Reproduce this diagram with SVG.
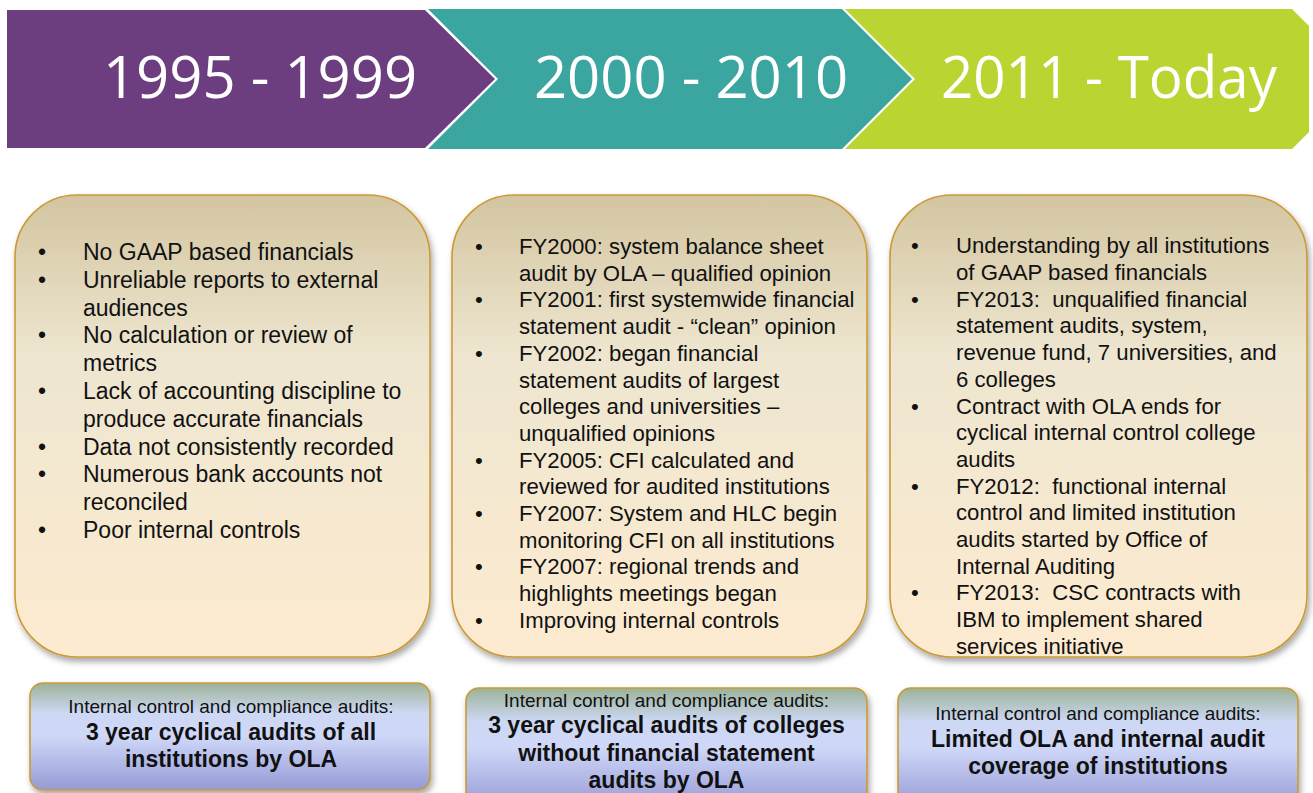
<svg xmlns="http://www.w3.org/2000/svg" width="1313" height="793" viewBox="0 0 1313 793">
  <style>
    .era { font-family: "Open Sans", "Noto Sans", sans-serif; font-size: 58px; fill: #ffffff; text-anchor: middle; }
    .card { stroke: #cc9a34; stroke-width: 1.6; fill: url(#cardFill); filter: url(#shadow); }
    .note { stroke: #cc9a34; stroke-width: 1.6; fill: url(#noteFill); filter: url(#shadow); }
    .item { font-family: "Liberation Sans", Arial, sans-serif; fill: #111111; }
    .b1 { font-size: 23px; }
    .b2 { font-size: 22.2px; }
    .lead { font-family: "Liberation Sans", Arial, sans-serif; font-size: 19px; fill: #111111; text-anchor: middle; }
    .strong { font-family: "Liberation Sans", Arial, sans-serif; font-size: 23px; font-weight: bold; fill: #111111; text-anchor: middle; }
  </style>
  <defs>
    <linearGradient id="cardFill" x1="0" y1="0" x2="0" y2="1">
      <stop offset="0" stop-color="#d3c5a0"/>
      <stop offset="0.35" stop-color="#eee6d0"/>
      <stop offset="1" stop-color="#fdebd0"/>
    </linearGradient>
    <linearGradient id="noteFill" x1="0" y1="0" x2="0" y2="1">
      <stop offset="0" stop-color="#9cb297"/>
      <stop offset="0.28" stop-color="#cdd8f4"/>
      <stop offset="0.5" stop-color="#cfd7f8"/>
      <stop offset="1" stop-color="#959ad4"/>
    </linearGradient>
    <filter id="shadow" x="-10%" y="-10%" width="125%" height="125%">
      <feDropShadow dx="2" dy="4" stdDeviation="3" flood-color="#000000" flood-opacity="0.35"/>
    </filter>
  </defs>

  <rect width="1313" height="793" fill="#ffffff"/>

  <!-- timeline banner -->
  <g id="era-1995">
    <path d="M7,10 L425,10 L495,79 L425,148 L7,148 Z" fill="#6d3e7f"/>
    <text class="era" x="260" y="98">1995 - 1999</text>
  </g>
  <g id="era-2000">
    <path d="M428,9 L842,9 L912,79 L842,149 L428,149 L498,79 Z" fill="#3ba6a0"/>
    <text class="era" x="691" y="98">2000 - 2010</text>
  </g>
  <g id="era-2011">
    <path d="M845,9 L1292,9 L1309,26 L1309,132 L1292,149 L845,149 L915,79 Z" fill="#bad432"/>
    <text class="era" x="1109" y="98" textLength="336" lengthAdjust="spacingAndGlyphs">2011 - Today</text>
  </g>

  <!-- period detail cards -->
  <g id="card-1995">
    <rect class="card" x="15" y="195" width="415" height="462" rx="62" ry="62"/>
    <g class="item b1">
      <text x="38" y="260">•</text><text x="83" y="260">No GAAP based financials</text>
      <text x="38" y="287.8">•</text><text x="83" y="287.8">Unreliable reports to external</text>
      <text x="83" y="315.6">audiences</text>
      <text x="38" y="343.4">•</text><text x="83" y="343.4">No calculation or review of</text>
      <text x="83" y="371.2">metrics</text>
      <text x="38" y="399">•</text><text x="83" y="399">Lack of accounting discipline to</text>
      <text x="83" y="426.8">produce accurate financials</text>
      <text x="38" y="454.6">•</text><text x="83" y="454.6">Data not consistently recorded</text>
      <text x="38" y="482.4">•</text><text x="83" y="482.4">Numerous bank accounts not</text>
      <text x="83" y="510.2">reconciled</text>
      <text x="38" y="538">•</text><text x="83" y="538">Poor internal controls</text>
    </g>
  </g>

  <g id="card-2000">
    <rect class="card" x="452" y="195" width="415" height="462" rx="62" ry="62"/>
    <g class="item b2">
      <text x="475" y="254">•</text><text x="519" y="254">FY2000: system balance sheet</text>
      <text x="519" y="280.7">audit by OLA – qualified opinion</text>
      <text x="475" y="307.4">•</text><text x="519" y="307.4">FY2001: first systemwide financial</text>
      <text x="519" y="334.1">statement audit - “clean” opinion</text>
      <text x="475" y="360.8">•</text><text x="519" y="360.8">FY2002: began financial</text>
      <text x="519" y="387.5">statement audits of largest</text>
      <text x="519" y="414.2">colleges and universities –</text>
      <text x="519" y="440.9">unqualified opinions</text>
      <text x="475" y="467.6">•</text><text x="519" y="467.6">FY2005: CFI calculated and</text>
      <text x="519" y="494.3">reviewed for audited institutions</text>
      <text x="475" y="521">•</text><text x="519" y="521">FY2007: System and HLC begin</text>
      <text x="519" y="547.7">monitoring CFI on all institutions</text>
      <text x="475" y="574.4">•</text><text x="519" y="574.4">FY2007: regional trends and</text>
      <text x="519" y="601.1">highlights meetings began</text>
      <text x="475" y="627.8">•</text><text x="519" y="627.8">Improving internal controls</text>
    </g>
  </g>

  <g id="card-2011">
    <rect class="card" x="890" y="195" width="417" height="462" rx="62" ry="62"/>
    <g class="item b2">
      <text x="911" y="253.3">•</text><text x="956" y="253.3">Understanding by all institutions</text>
      <text x="956" y="280">of GAAP based financials</text>
      <text x="911" y="306.7">•</text><text x="956" y="306.7">FY2013:&#160; unqualified financial</text>
      <text x="956" y="333.4">statement audits, system,</text>
      <text x="956" y="360.1">revenue fund, 7 universities, and</text>
      <text x="956" y="386.8">6 colleges</text>
      <text x="911" y="413.5">•</text><text x="956" y="413.5">Contract with OLA ends for</text>
      <text x="956" y="440.2">cyclical internal control college</text>
      <text x="956" y="466.9">audits</text>
      <text x="911" y="493.6">•</text><text x="956" y="493.6">FY2012:&#160; functional internal</text>
      <text x="956" y="520.3">control and limited institution</text>
      <text x="956" y="547">audits started by Office of</text>
      <text x="956" y="573.7">Internal Auditing</text>
      <text x="911" y="600.4">•</text><text x="956" y="600.4">FY2013:&#160; CSC contracts with</text>
      <text x="956" y="627.1">IBM to implement shared</text>
      <text x="956" y="653.8">services initiative</text>
    </g>
  </g>

  <!-- audit coverage notes -->
  <g id="note-1995">
    <rect class="note" x="30" y="683" width="400" height="107" rx="13" ry="13"/>
    <text class="lead" x="231" y="712.7">Internal control and compliance audits:</text>
    <text class="strong" x="231" y="740">3 year cyclical audits of all</text>
    <text class="strong" x="231" y="767">institutions by OLA</text>
  </g>
  <g id="note-2000">
    <rect class="note" x="466" y="688" width="401" height="120" rx="13" ry="13"/>
    <text class="lead" x="666.5" y="706.7">Internal control and compliance audits:</text>
    <text class="strong" x="666.5" y="733.3">3 year cyclical audits of colleges</text>
    <text class="strong" x="666.5" y="760.7">without financial statement</text>
    <text class="strong" x="666.5" y="788.3">audits by OLA</text>
  </g>
  <g id="note-2011">
    <rect class="note" x="898" y="688" width="400" height="120" rx="13" ry="13"/>
    <text class="lead" x="1098" y="720">Internal control and compliance audits:</text>
    <text class="strong" x="1098" y="747.3">Limited OLA and internal audit</text>
    <text class="strong" x="1098" y="774">coverage of institutions</text>
  </g>

  <!-- the timeline has no connectors between nodes -->
  <g id="connectors"/>
</svg>
